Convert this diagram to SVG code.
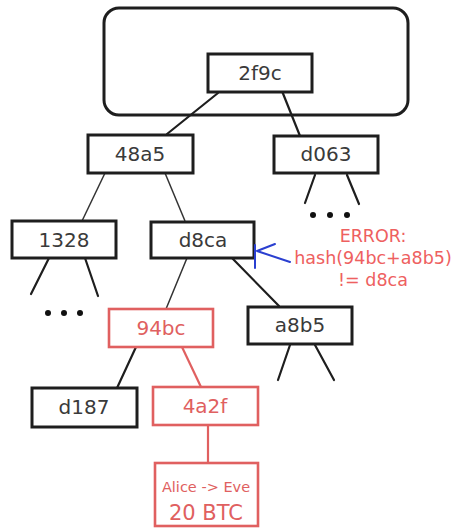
<svg xmlns="http://www.w3.org/2000/svg" width="455" height="529" viewBox="0 0 455 529">
<style>
.box{fill:#fff;stroke:#1e1e1e;stroke-width:3}
.rbox{fill:#fff;stroke:#e06060;stroke-width:2.6}
.lbl{font-family:"DejaVu Sans",sans-serif;font-size:20px;fill:#3a3a3a;text-anchor:middle}
.rlbl{font-family:"DejaVu Sans",sans-serif;font-size:20px;fill:#e06060;text-anchor:middle}
.ln{stroke:#1e1e1e;stroke-width:2.2;fill:none;stroke-linecap:round}
.thin{stroke:#333;stroke-width:1.5;fill:none}
.rln{stroke:#e06060;stroke-width:2.2;fill:none}
.dot{fill:#111}
.err{font-family:"DejaVu Sans",sans-serif;font-size:17.5px;fill:#ee6060;text-anchor:middle}
.blue{stroke:#2a3fd0;stroke-width:2;fill:none;stroke-linecap:round}
</style>
<rect x="104" y="8" width="304" height="107" rx="15" fill="#fff" stroke="#1e1e1e" stroke-width="3"/>
<g id="connectors">
<line class="ln" x1="218" y1="93" x2="167" y2="134"/>
<line class="ln" x1="282" y1="91" x2="300" y2="136"/>
<line class="thin" x1="105" y1="173" x2="82" y2="221"/>
<line class="thin" x1="165" y1="173" x2="185" y2="221"/>
<line class="ln" x1="315" y1="175" x2="305" y2="203"/>
<line class="ln" x1="347" y1="175" x2="359" y2="204"/>
<line class="ln" x1="49" y1="258" x2="31" y2="294"/>
<line class="ln" x1="85" y1="258" x2="98" y2="296"/>
<line class="thin" x1="187" y1="258" x2="166" y2="309"/>
<line class="ln" x1="232" y1="258" x2="279" y2="306"/>
<line class="ln" x1="290" y1="345" x2="278" y2="380"/>
<line class="ln" x1="315" y1="345" x2="334" y2="380"/>
<line class="ln" x1="136" y1="347" x2="117" y2="388"/>
<line class="rln" x1="182" y1="347" x2="201" y2="387"/>
<line class="rln" x1="208" y1="425" x2="208" y2="463"/>
</g>
<g id="dots1328"><circle class="dot" cx="48" cy="313" r="3"/><circle class="dot" cx="64" cy="313" r="3"/><circle class="dot" cx="80" cy="313" r="3"/></g>
<g id="dotsd063"><circle class="dot" cx="313" cy="215" r="3"/><circle class="dot" cx="330" cy="215" r="3"/><circle class="dot" cx="347" cy="215" r="3"/></g>
<g id="n2f9c"><rect class="box" x="208" y="54" width="104" height="38"/><text class="lbl" x="260" y="80">2f9c</text></g>
<g id="n48a5"><rect class="box" x="88" y="135" width="105" height="38"/><text class="lbl" x="140" y="161">48a5</text></g>
<g id="nd063"><rect class="box" x="274" y="136" width="104" height="37"/><text class="lbl" x="326" y="161">d063</text></g>
<g id="n1328"><rect class="box" x="12" y="221" width="104" height="37"/><text class="lbl" x="64" y="247">1328</text></g>
<g id="nd8ca"><rect class="box" x="151" y="222" width="103" height="36"/><text class="lbl" x="203" y="247">d8ca</text></g>
<g id="n94bc"><rect class="rbox" x="109" y="309" width="104" height="38"/><text class="rlbl" x="161" y="335">94bc</text></g>
<g id="na8b5"><rect class="box" x="248" y="307" width="104" height="37"/><text class="lbl" x="300" y="332">a8b5</text></g>
<g id="nd187"><rect class="box" x="32" y="388" width="105" height="39"/><text class="lbl" x="84" y="414">d187</text></g>
<g id="n4a2f"><rect class="rbox" x="153" y="387" width="105" height="38"/><text class="rlbl" x="205" y="413">4a2f</text></g>
<g id="ntx"><rect class="rbox" x="155" y="463" width="103" height="63"/>
<text class="rlbl" x="206" y="492" style="font-size:14.5px">Alice -&gt; Eve</text>
<text class="rlbl" x="206" y="520" style="font-size:21px">20 BTC</text></g>
<g id="error">
<path class="blue" d="M255 245 L255 268 M257 251 L275 244 M257 251 L290 262"/>
<text class="err" x="373" y="242">ERROR:</text>
<text class="err" x="373" y="264">hash(94bc+a8b5)</text>
<text class="err" x="373" y="286">!= d8ca</text>
</g>
</svg>
